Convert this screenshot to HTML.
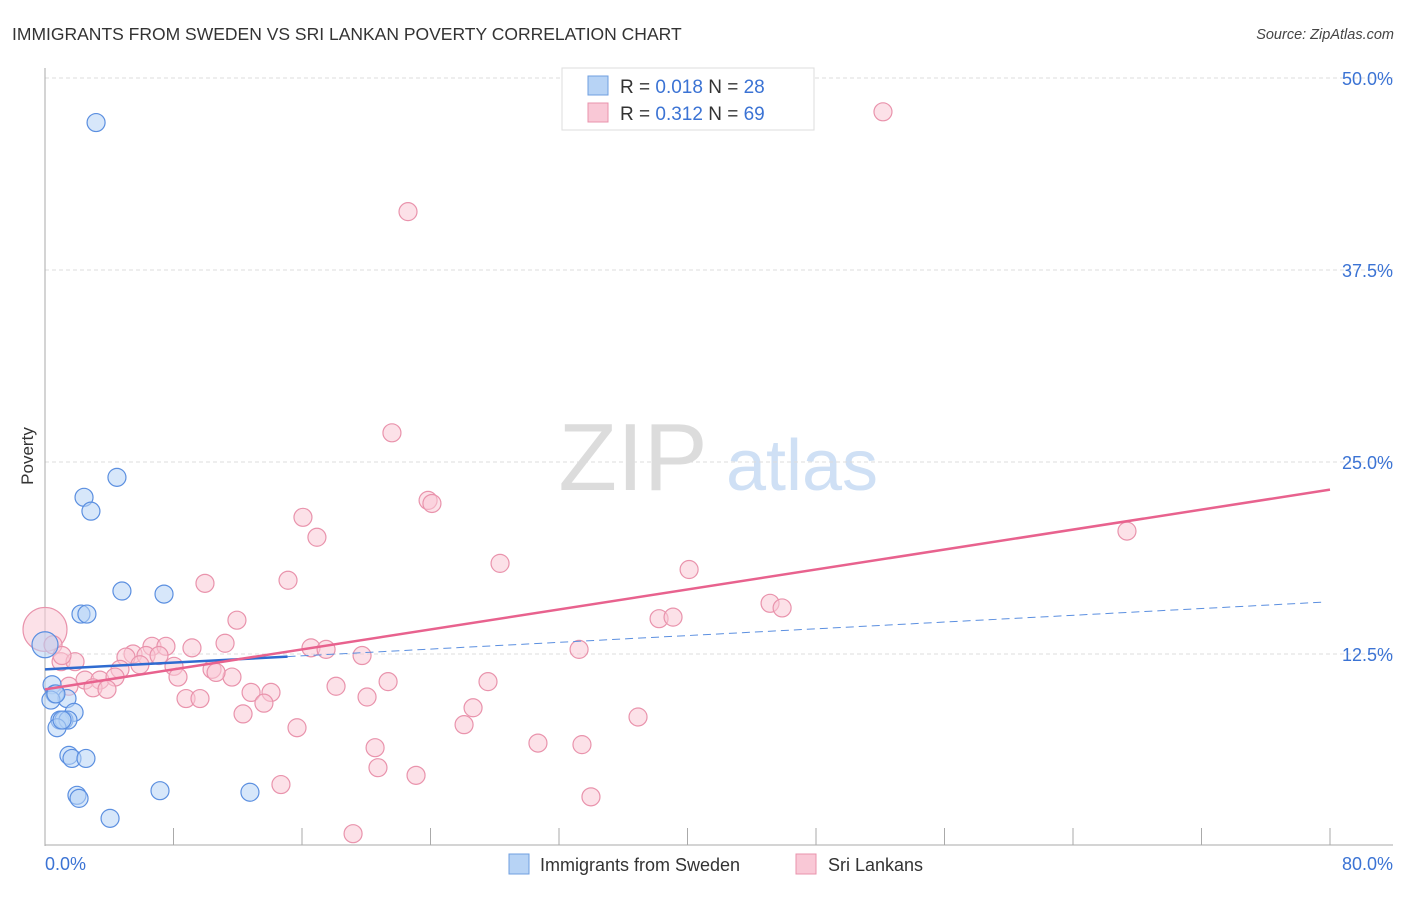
<!DOCTYPE html>
<html><head><meta charset="utf-8"><style>
body{margin:0;background:#fff;font-family:"Liberation Sans",sans-serif}
svg text{font-family:"Liberation Sans",sans-serif}
</style></head><body>
<svg id="chart" width="1406" height="892" viewBox="0 0 1406 892" xmlns="http://www.w3.org/2000/svg">
<text x="12" y="40" font-size="17.5" fill="#333">IMMIGRANTS FROM SWEDEN VS SRI LANKAN POVERTY CORRELATION CHART</text>
<text x="1394" y="39" font-size="14.5" fill="#444" text-anchor="end" font-style="italic">Source: ZipAtlas.com</text>
<g>
<text x="633" y="490" font-size="96" font-family="Liberation Serif,serif" fill="#dcdcdc" text-anchor="middle">ZIP</text>
<text x="802" y="490" font-size="72" fill="#cfe0f5" text-anchor="middle">atlas</text>
</g>
<g id="grid"></g>
<g id="axes"></g>
<g id="marks"></g>
<text transform="translate(33,456) rotate(-90)" font-size="17" fill="#333" text-anchor="middle">Poverty</text>
<g>
<rect x="562" y="68" width="252" height="62" fill="#fff" stroke="#ddd"/>
<rect x="588" y="76" width="20" height="19" fill="#b7d3f5" stroke="#6f9fe0"/>
<rect x="588" y="103" width="20" height="19" fill="#f9c8d6" stroke="#e993ac"/>
<text x="620" y="93" font-size="19" fill="#333">R = <tspan fill="#3b73d4">0.018</tspan>   N = <tspan fill="#3b73d4">28</tspan></text>
<text x="620" y="120" font-size="19" fill="#333">R = <tspan fill="#3b73d4"> 0.312</tspan>   N = <tspan fill="#3b73d4">69</tspan></text>
</g>
<g>
<rect x="509" y="854" width="20" height="20" fill="#b7d3f5" stroke="#6f9fe0"/>
<text x="540" y="871" font-size="18" fill="#333">Immigrants from Sweden</text>
<rect x="796" y="854" width="20" height="20" fill="#f9c8d6" stroke="#e993ac"/>
<text x="828" y="871" font-size="18" fill="#333">Sri Lankans</text>
</g>
</svg>
<script>
const yTicks=[12.5,25,37.5,50];
const yTickLabels=["12.5%","25.0%","37.5%","50.0%"];
const xTicks=[0,8,16,24,32,40,48,56,64,72,80];
const blueX=[3.18,4.48,2.43,2.86,4.79,7.41,2.24,2.61,0.0,0.44,0.62,1.37,0.37,1.81,0.93,1.18,1.43,0.75,1.49,1.68,2.55,7.16,1.99,2.12,12.76,4.05,0.68,1.06];
const blueY=[47.1,24.0,22.7,21.8,16.6,16.4,15.1,15.1,13.1,10.5,9.9,9.6,9.5,8.7,8.2,8.2,8.2,7.7,5.9,5.7,5.7,3.6,3.3,3.1,3.5,1.8,9.9,8.2];
const pinkX=[52.17,22.6,21.6,23.85,24.09,67.36,16.06,16.93,28.33,40.1,9.96,15.13,11.95,45.14,45.89,38.23,39.1,0,0.5,1.0,1.87,11.21,9.15,6.66,7.53,5.48,5.04,6.29,7.1,8.03,5.91,4.67,16.56,17.5,19.74,33.25,8.28,11.64,10.4,10.65,2.49,3.42,4.36,1.49,2.99,3.86,18.12,21.36,27.58,12.83,14.07,20.05,8.78,9.65,13.63,26.65,12.33,36.92,26.09,15.69,30.69,33.43,20.55,20.73,23.1,14.69,33.99,19.18,1.06];
const pinkY=[47.8,41.3,26.9,22.5,22.3,20.5,21.4,20.1,18.4,18.0,17.1,17.3,14.7,15.8,15.5,14.8,14.9,14.1,13.1,12.0,12.0,13.2,12.9,13.0,13.0,12.5,12.3,12.4,12.4,11.7,11.8,11.5,12.9,12.8,12.4,12.8,11.0,11.0,11.5,11.3,10.8,10.8,11.0,10.4,10.3,10.2,10.4,10.7,10.7,10.0,10.0,9.7,9.6,9.6,9.3,9.0,8.6,8.4,7.9,7.7,6.7,6.6,6.4,5.1,4.6,4.0,3.2,0.8,12.4];
const blueTrend=[11.5,15.9];
const pinkTrend=[10.2,23.2];
const NS="http://www.w3.org/2000/svg";
const X0=45,X1=1330,Y0=846;
function sx(v){return X0+(X1-X0)*v/80;}
function sy(v){return Y0-v*192/12.5;}
function mk(tag,attrs,parent){const e=document.createElementNS(NS,tag);for(const k in attrs)e.setAttribute(k,attrs[k]);parent.appendChild(e);return e;}
const grid=document.getElementById('grid'),axes=document.getElementById('axes'),marks=document.getElementById('marks');
yTicks.forEach((t,i)=>{
 const l=mk('line',{x1:45,x2:1393,y1:sy(t),y2:sy(t),stroke:'#ddd','stroke-dasharray':'4 3'},grid);
 
 
 const tx=mk('text',{x:1393,y:sy(t)+7,'font-size':18,fill:'#3b73d4','text-anchor':'end'},axes);
 tx.textContent=yTickLabels[i];
 
 
});
const ya=mk('line',{x1:45,x2:45,y1:68,y2:846,stroke:'#aaa'},axes);


const xa=mk('line',{x1:45,x2:1393,y1:845,y2:845,stroke:'#aaa'},axes);


xTicks.forEach(t=>{
 const l=mk('line',{x1:sx(t),x2:sx(t),y1:828,y2:845,stroke:'#aaa'},axes);
 
 
});
const xl0=mk('text',{x:45,y:870,'font-size':18,fill:'#3b73d4'},axes);xl0.textContent='0.0%';


const xl1=mk('text',{x:1393,y:870,'font-size':18,fill:'#3b73d4','text-anchor':'end'},axes);xl1.textContent='80.0%';


pinkX.forEach((x,i)=>{
 const c=mk('circle',{cx:sx(x),cy:sy(pinkY[i]),r:(i==17?22:9),fill:'#f9c8d6','fill-opacity':0.55,stroke:'#e993ac','stroke-width':1.2},marks);
 
 
});
blueX.forEach((x,i)=>{
 const c=mk('circle',{cx:sx(x),cy:sy(blueY[i]),r:(i==8?13:9),fill:'#b7d3f5','fill-opacity':0.55,stroke:'#5b8fe0','stroke-width':1.2},marks);
 
 
});
const bslope=(blueTrend[1]-blueTrend[0])/80;
const bd=mk('line',{x1:sx(15.1),y1:sy(blueTrend[0]+bslope*15.1),x2:sx(79.7),y2:sy(blueTrend[0]+bslope*79.7),stroke:'#5b8fe0','stroke-width':1,'stroke-dasharray':'8 5'},marks);


const bs=mk('line',{x1:sx(0),y1:sy(blueTrend[0]),x2:sx(15.1),y2:sy(blueTrend[0]+bslope*15.1),stroke:'#2f6bd0','stroke-width':2.5},marks);


const pt=mk('line',{x1:sx(0),y1:sy(pinkTrend[0]),x2:sx(80),y2:sy(pinkTrend[1]),stroke:'#e8628e','stroke-width':2.5},marks);


</script>
</body></html>
